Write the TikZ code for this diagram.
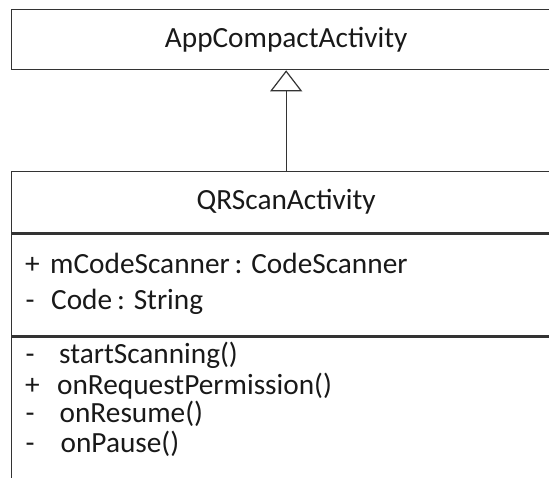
\documentclass[tikz,border=0pt]{standalone}
\usepackage{fontspec}
\setmainfont{Carlito}
\usetikzlibrary{shapes,arrows.meta,positioning,calc}

\begin{document}
\begin{tikzpicture}[x=1bp, y=1bp, node distance=0pt, font=\fontsize{29.4}{35}\selectfont]
\tikzstyle{classbox} = [rectangle, draw=black!80, line width=1.3bp, minimum width=549bp, inner sep=0pt, text=black!90]
\tikzstyle{row} = [anchor=base west, inner sep=0pt, text=black!90]
\tikzstyle{line} = [draw=black!80, line width=1.2bp, -{Triangle[open, length=21bp, width=32bp, line width=1.2bp]}]

\useasboundingbox (0,0) rectangle (549,478);
\clip (0,0) rectangle (549,478);

% parent class
\node [classbox, minimum height=60bp, anchor=north west] (appcompact) at (11,469) {AppCompactActivity};

% child class with its compartments
\node [classbox, minimum height=61bp, anchor=north west] (qrscan) at (11,307) {QRScanActivity};
\node [classbox, minimum height=102bp, below=of qrscan] (attrs) {};
\node [classbox, minimum height=170bp, below=of attrs] (ops) {};

% attributes
\node [row] (attr1) at (25,204) {\makebox[25bp][l]{+}mCodeScanner\,: CodeScanner};
\node [row] (attr2) at (25.5,168) {\makebox[25.5bp][l]{-}Code\,: String};

% operations
\node [row] (op1) at (25.5,114) {\makebox[33.5bp][l]{-}startScanning()};
\node [row] (op2) at (25,83) {\makebox[32bp][l]{+}onRequestPermission()};
\node [row] (op3) at (25.5,55) {\makebox[34bp][l]{-}onResume()};
\node [row] (op4) at (25.5,25) {\makebox[35bp][l]{-}onPause()};

% generalisation
\path [line] (qrscan) -- (appcompact);
\end{tikzpicture}
\end{document}
